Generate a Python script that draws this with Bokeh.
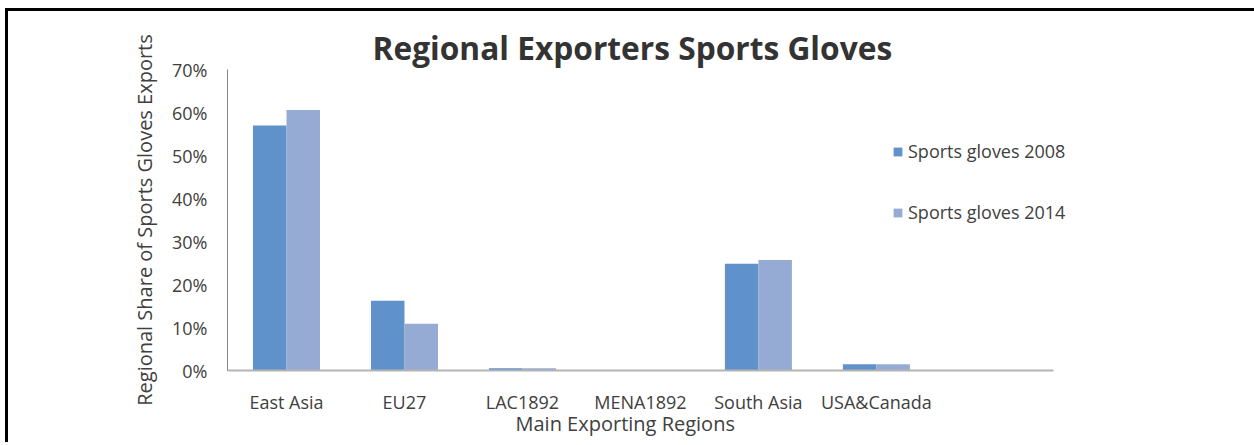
from bokeh.plotting import figure
from bokeh.models import (Range1d, NumeralTickFormatter, Legend, LegendItem,
                          ColumnDataSource, Title, FixedTicker)
from bokeh.transform import dodge
from bokeh.embed import file_html
from bokeh.resources import INLINE

# ---- data ----
regions = ["East Asia", "EU27", "LAC1892", "MENA1892", "South Asia", "USA&Canada"]
share_2008 = [0.570, 0.162, 0.005, 0.0, 0.248, 0.0145]
share_2014 = [0.606, 0.109, 0.005, 0.0, 0.257, 0.0145]
series_names = ["Sports gloves 2008", "Sports gloves 2014"]
y_ticks = [0.0, 0.1, 0.2, 0.3, 0.4, 0.5, 0.6, 0.7]
title_text = "Regional Exporters Sports Gloves"
x_title = "Main Exporting Regions"
y_title = "Regional Share of Sports Gloves Exports"

FONT = "Open Sans"
TXT = "#404040"
C2008 = "#5f91cb"
C2014 = "#96abd3"

n_slots = len(regions) + 1          # Excel keeps an empty 7th category slot
x_pos = [i + 0.5 for i in range(len(regions))]

src = ColumnDataSource(dict(x=x_pos, region=regions, s2008=share_2008, s2014=share_2014))

p = figure(x_range=Range1d(0, n_slots + 0.23),
           y_range=Range1d(0, 0.7),
           width=1246, height=434,
           output_backend="svg", toolbar_location=None,
           min_border_left=219, min_border_right=174,
           min_border_top=58, min_border_bottom=75,
           background_fill_color="white", border_fill_color="white")
p.margin = (11, 0, 0, 8)
p.styles = {"box-shadow": "-3px -3px 0 0 #000, 0 -3px 0 0 #000"}
p.outline_line_color = None
p.grid.grid_line_color = None

r1 = p.vbar(x=dodge("x", -0.142), top="s2008", width=0.284,
            source=src, fill_color=C2008, line_color=None)
r2 = p.vbar(x=dodge("x", 0.142), top="s2014", width=0.284,
            source=src, fill_color=C2014, line_color=None)

t = Title(text=title_text, align="left", offset=145, text_font=FONT,
          text_font_size="31.7px", text_font_style="bold", text_color="#333333",
          standoff=2)
p.add_layout(t, "above")

xa = p.xaxis[0]
xa.ticker = FixedTicker(ticks=x_pos)
xa.major_label_overrides = {x: name for x, name in zip(x_pos, regions)}
xa.bounds = (0, n_slots)
xa.axis_line_color = "#b4b4b4"
xa.axis_line_width = 2
xa.major_tick_line_color = None
xa.minor_tick_line_color = None
xa.major_tick_out = 0
xa.major_tick_in = 0
xa.major_label_standoff = 19
xa.major_label_text_font = FONT
xa.major_label_text_font_size = "18px"
xa.major_label_text_color = TXT

# x-axis title, placed like Excel's (not centred on the wider frame)
xt = Title(text=x_title, align="left", offset=288, text_font=FONT,
           text_font_size="20px", text_font_style="normal", text_color=TXT,
           standoff=-17)
p.add_layout(xt, "below")

ya = p.yaxis[0]
ya.ticker = FixedTicker(ticks=y_ticks)
ya.formatter = NumeralTickFormatter(format="0%")
ya.axis_line_color = "#868686"
ya.axis_line_width = 1
ya.major_tick_line_color = None
ya.minor_tick_line_color = None
ya.major_tick_out = 0
ya.major_tick_in = 0
ya.major_label_standoff = 20
ya.major_label_text_font = FONT
ya.major_label_text_font_size = "18px"
ya.major_label_text_color = TXT
ya.axis_label = y_title
ya.axis_label_standoff = 11
ya.axis_label_text_font = FONT
ya.axis_label_text_font_size = "20px"
ya.axis_label_text_font_style = "normal"
ya.axis_label_text_color = TXT

legend = Legend(items=[LegendItem(label=series_names[0], renderers=[r1]),
                       LegendItem(label=series_names[1], renderers=[r2])],
                location=(665, 146), orientation="vertical",
                glyph_width=11, glyph_height=11, label_standoff=5,
                label_height=24, spacing=37, padding=0, margin=0,
                border_line_color=None, background_fill_alpha=0,
                label_text_font=FONT, label_text_font_size="18px",
                label_text_color=TXT)
p.add_layout(legend)

open("out.html", "w").write(file_html(p, INLINE))
